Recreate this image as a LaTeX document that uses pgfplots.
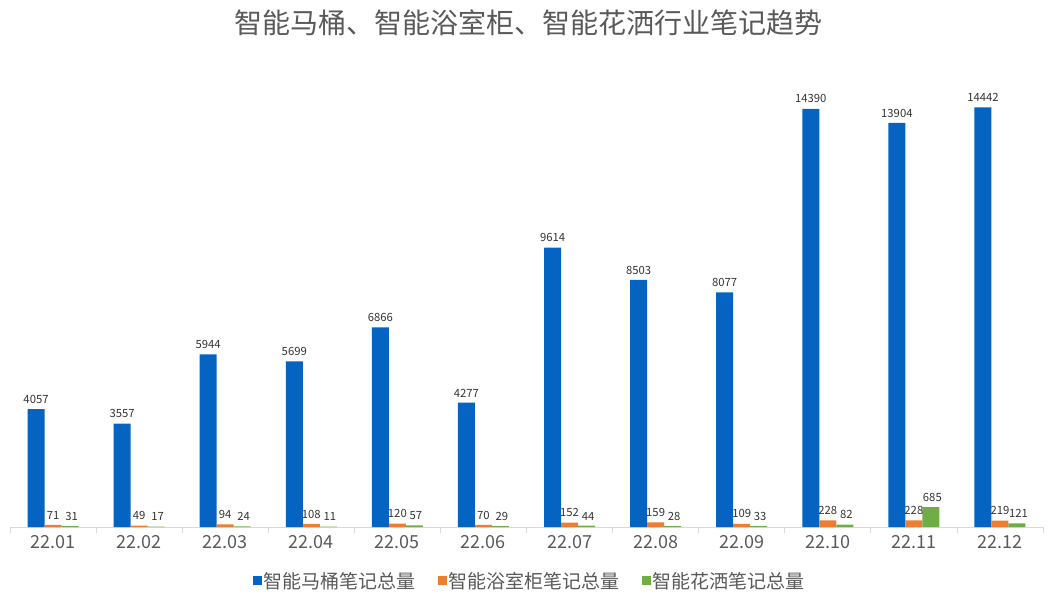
\documentclass[border=0pt]{standalone}
\usepackage{fontspec}
\setmainfont{Noto Sans CJK SC}
\usepackage{pgfplots}
\pgfplotsset{compat=1.18}
\definecolor{cblue}{RGB}{5,99,193}
\definecolor{corange}{RGB}{237,125,49}
\definecolor{cgreen}{RGB}{112,173,71}
\definecolor{ctext}{RGB}{89,89,89}
\definecolor{cline}{RGB}{217,217,217}
\begin{document}
\begin{tikzpicture}
\begin{axis}[
  at={(0,0)}, anchor=south west,
  scale only axis, width=1033pt, height=465pt,
  xmin=-0.5, xmax=11.5, ymin=0, ymax=16000,
  ybar=0pt, bar width=17pt,
  axis x line*=bottom, axis y line=none,
  x axis line style={draw=cline, line width=0.8pt, -},
  xtick={0,...,11},
  xticklabels={22.01,22.02,22.03,22.04,22.05,22.06,22.07,22.08,22.09,22.10,22.11,22.12},
  major tick length=0pt,
  extra x ticks={-0.5,0.5,...,11.5},
  extra x tick labels={},
  extra x tick style={major tick length=6pt, tick align=outside, tick style={draw=cline, line width=0.8pt}},
  x tick label style={font=\fontsize{18}{18}\selectfont, text=ctext, yshift=-5pt},
  /pgf/number format/assume math mode=true,
  nodes near coords,
  nodes near coords style={font=\fontsize{11.3}{11.3}\selectfont, text=black!80, yshift=4pt, inner sep=1.5pt, /pgf/number format/fixed, /pgf/number format/set thousands separator={}},
  legend style={at={(0.503,-0.116)}, anchor=center, draw=none, fill=none, legend columns=3,
    font=\fontsize{19}{19}\selectfont, text=ctext, /tikz/every even column/.append style={column sep=20pt}},
  legend image code/.code={\fill[#1] (0pt,-4.5pt) rectangle (9pt,4.5pt);},
  clip=false,
]
\addplot[fill=cblue, draw=none] coordinates {(0,4057)(1,3557)(2,5944)(3,5699)(4,6866)(5,4277)(6,9614)(7,8503)(8,8077)(9,14390)(10,13904)(11,14442)};
\addplot[fill=corange, draw=none] coordinates {(0,71)(1,49)(2,94)(3,108)(4,120)(5,70)(6,152)(7,159)(8,109)(9,228)(10,228)(11,219)};
\addplot[fill=cgreen, draw=none, nodes near coords style={xshift=1.5pt}] coordinates {(0,31)(1,17)(2,24)(3,11)(4,57)(5,29)(6,44)(7,28)(8,33)(9,82)(10,685)(11,121)};
\legend{智能马桶笔记总量,智能浴室柜笔记总量,智能花洒笔记总量}
\end{axis}
\node[font=\fontsize{28}{28}\selectfont, text=ctext] at (518pt,504pt) {智能马桶、智能浴室柜、智能花洒行业笔记趋势};
\path (-10pt,-78pt) rectangle (1044pt,527pt);
\end{tikzpicture}
\end{document}
